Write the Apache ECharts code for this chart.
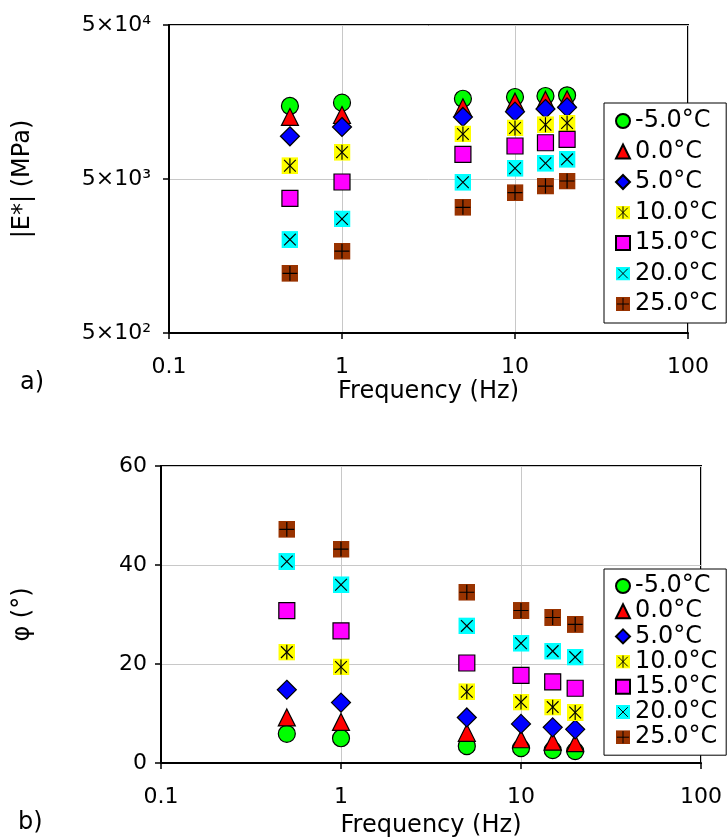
<!DOCTYPE html>
<html>
<head>
<meta charset="utf-8">
<script src="https://cdn.jsdelivr.net/npm/echarts@6/dist/echarts.min.js"></script>
<style>
html,body{margin:0;padding:0;background:#fff;}
#chart{width:728px;height:839px;}
</style>
</head>
<body>
<div id="chart"></div>
<script>
// ---- data ----
const frequencies = [0.5, 1, 5, 10, 15, 20];
const temperatures = ['-5.0°C', '0.0°C', '5.0°C', '10.0°C', '15.0°C', '20.0°C', '25.0°C'];
const modulusM5 = [14900, 15650, 16600, 17040, 17300, 17480];
const modulus0  = [12640, 13020, 14600, 15890, 16300, 16460];
const modulus5  = [9470, 10880, 12640, 13680, 14240, 14600];
const modulus10 = [6100, 7455, 9800, 10720, 11260, 11550];
const modulus15 = [3745, 4780, 7235, 8190, 8600, 9050];
const modulus20 = [2020, 2750, 4760, 5870, 6325, 6710];
const modulus25 = [1220, 1700, 3275, 4075, 4500, 4850];
const phaseM5 = [5.9, 5.0, 3.4, 3.0, 2.6, 2.4];
const phase0  = [9.2, 8.3, 6.1, 4.8, 4.3, 4.0];
const phase5  = [14.8, 12.2, 9.2, 7.9, 7.2, 6.8];
const phase10 = [22.4, 19.4, 14.4, 12.3, 11.3, 10.2];
const phase15 = [30.8, 26.7, 20.2, 17.7, 16.4, 15.1];
const phase20 = [40.7, 36.0, 27.7, 24.2, 22.6, 21.4];
const phase25 = [47.2, 43.2, 34.5, 30.8, 29.4, 28.0];
const modulusTicks = [500, 5000, 50000];
const freqTicks = [0.1, 1, 10, 100];
const phaseTicks = [0, 20, 40, 60];

const modulusSets = [modulusM5, modulus0, modulus5, modulus10, modulus15, modulus20, modulus25];
const phaseSets = [phaseM5, phase0, phase5, phase10, phase15, phase20, phase25];

// ---- styles ----
const FONT = 'DejaVu Sans';
function svgSym(fill, lines) {
  const svg = '<svg xmlns="http://www.w3.org/2000/svg" width="64" height="64" viewBox="0 0 16 16">' +
    '<rect x="0" y="0" width="16" height="16" fill="' + fill + '"/>' +
    '<g stroke="#000" stroke-width="1.1" fill="none">' + lines + '</g></svg>';
  return 'image://data:image/svg+xml;charset=utf-8,' + encodeURIComponent(svg);
}
const starLines = '<line x1="2.5" y1="2.5" x2="13.5" y2="13.5"/><line x1="13.5" y1="2.5" x2="2.5" y2="13.5"/><line x1="8" y1="1" x2="8" y2="15"/>';
const xLines = '<line x1="2.5" y1="2.5" x2="13.5" y2="13.5"/><line x1="13.5" y1="2.5" x2="2.5" y2="13.5"/>';
const plusLines = '<line x1="8" y1="1" x2="8" y2="15"/><line x1="1" y1="8" x2="15" y2="8"/>';

const markerStyles = [
  {symbol: 'circle', size: 17, color: '#00ff00', border: true},
  {symbol: 'triangle', size: 17, color: '#ff0000', border: true},
  {symbol: 'diamond', size: 19, color: '#0000ff', border: true},
  {symbol: svgSym('#ffff00', starLines), size: 17, color: '#ffff00', border: false},
  {symbol: 'rect', size: 16, color: '#ff00ff', border: true},
  {symbol: svgSym('#00ffff', xLines), size: 17, color: '#00ffff', border: false},
  {symbol: svgSym('#993300', plusLines), size: 17, color: '#993300', border: false}
];

const supDigits = {2: '²', 3: '³', 4: '⁴'};

const series = [];
temperatures.forEach(function (name, i) {
  const st = markerStyles[i];
  const itemStyle = {color: st.color, borderColor: '#000', borderWidth: st.border ? 1.2 : 0, opacity: 1};
  series.push({
    name: name, type: 'scatter', xAxisIndex: 0, yAxisIndex: 0,
    symbol: st.symbol, symbolSize: st.size, itemStyle: itemStyle,
    data: frequencies.map(function (f, k) { return [f, modulusSets[i][k]]; })
  });
  series.push({
    name: name, type: 'scatter', xAxisIndex: 1, yAxisIndex: 1,
    symbol: st.symbol, symbolSize: st.size, itemStyle: itemStyle,
    data: frequencies.map(function (f, k) { return [f, phaseSets[i][k]]; })
  });
});

const nameText = {color: '#000', fontSize: 24, fontFamily: FONT};
const tickText = {color: '#000', fontSize: 22, fontFamily: FONT};
const gridLine = {show: true, lineStyle: {color: '#c8c8c8', width: 1}};
const axisLineStyle = {show: true, lineStyle: {color: '#000', width: 2}};
const tickStyle = {show: true, inside: false, length: 6, lineStyle: {color: '#000', width: 1.5}};

function fmtFreq(v) { return String(Math.round(v * 1000) / 1000); }

const legendBase = {
  orient: 'vertical', left: 604,
  data: temperatures,
  backgroundColor: '#fff', borderColor: '#000', borderWidth: 1,
  itemWidth: 14, itemHeight: 14, itemTextGap: 7,
  textStyle: {color: '#000', fontSize: 24, fontFamily: FONT},
  selectedMode: false, z: 20
};

const option = {
  animation: false,
  backgroundColor: '#fff',
  textStyle: {fontFamily: FONT},
  grid: [
    {left: 169, top: 25, width: 519, height: 308, show: true, borderColor: '#000', borderWidth: 2, backgroundColor: 'transparent'},
    {left: 161, top: 466, width: 540, height: 297, show: true, borderColor: '#000', borderWidth: 2, backgroundColor: 'transparent'}
  ],
  legend: [
    Object.assign({}, legendBase, {top: 103, itemGap: 6.5, padding: [6, 9, 7, 11]}),
    Object.assign({}, legendBase, {top: 569, itemGap: 1.2, padding: [5, 9, 6, 11]})
  ],
  xAxis: [0, 1].map(function (g) {
    return {
      type: 'log', logBase: 10, gridIndex: g, min: freqTicks[0], max: freqTicks[freqTicks.length - 1],
      name: 'Frequency (Hz)', nameLocation: 'middle', nameGap: g === 0 ? 47 : 51,
      nameTextStyle: nameText,
      axisLine: axisLineStyle, axisTick: tickStyle,
      axisLabel: Object.assign({margin: 23, formatter: fmtFreq}, tickText),
      splitLine: gridLine, minorTick: {show: false}, minorSplitLine: {show: false}
    };
  }),
  yAxis: [
    {
      type: 'log', logBase: 10, gridIndex: 0, min: modulusTicks[0], max: modulusTicks[modulusTicks.length - 1],
      name: '|E*| (MPa)', nameLocation: 'middle', nameRotate: 90, nameGap: 134,
      nameTextStyle: nameText,
      axisLine: axisLineStyle,
      axisTick: Object.assign({customValues: modulusTicks}, tickStyle),
      axisLabel: Object.assign({margin: 18, customValues: modulusTicks,
        formatter: function (v) { const e = Math.round(Math.log10(v / 5)); return '5×10' + supDigits[e]; }}, tickText),
      splitLine: gridLine, minorTick: {show: false}
    },
    {
      type: 'value', gridIndex: 1, min: phaseTicks[0], max: phaseTicks[phaseTicks.length - 1], interval: phaseTicks[1] - phaseTicks[0],
      name: 'φ (°)', nameLocation: 'middle', nameRotate: 90, nameGap: 126,
      nameTextStyle: nameText,
      axisLine: axisLineStyle, axisTick: tickStyle,
      axisLabel: Object.assign({margin: 14}, tickText),
      splitLine: gridLine
    }
  ],
  graphic: [
    {type: 'text', left: 20, top: 371, style: {text: 'a)', fontSize: 24, fontFamily: FONT, fill: '#000'}},
    {type: 'text', left: 18, top: 811, style: {text: 'b)', fontSize: 24, fontFamily: FONT, fill: '#000'}}
  ],
  series: series
};

const chart = echarts.init(document.getElementById('chart'), null, {renderer: 'canvas'});
chart.setOption(option);
</script>
</body>
</html>
